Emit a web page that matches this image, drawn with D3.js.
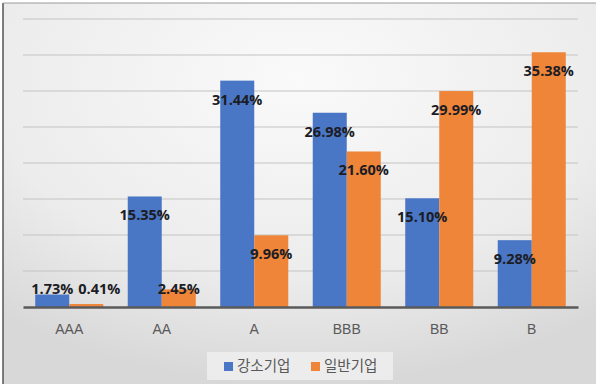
<!DOCTYPE html>
<html>
<head>
<meta charset="utf-8">
<script src="https://cdn.jsdelivr.net/npm/d3@7"></script>
<style>
  body { margin: 0; background: #fff; }
  svg { display: block; }
</style>
</head>
<body>
<div id="chart"></div>
<script>
// data
const grades = ["AAA", "AA", "A", "BBB", "BB", "B"];
const seriesNames = ["강소기업", "일반기업"];
const strongCo = [1.73, 15.35, 31.44, 26.98, 15.10, 9.28];
const generalCo = [0.41, 2.45, 9.96, 21.60, 29.99, 35.38];
const yTicks = [0, 5, 10, 15, 20, 25, 30, 35, 40];

const colors = ["#4a76c6", "#ee8538"];
const W = 600, H = 388;
const margin = {left: 23, right: 22, top: 19, bottom: 81};

var svg = d3.select("#chart")
    .append("svg")
    .attr("width", W)
    .attr("height", H);

// background gradient (photo-like vignette)
let defs = svg.append("defs");
let grad = defs.append("radialGradient")
    .attr("id", "bg")
    .attr("cx", "50%")
    .attr("cy", "20%")
    .attr("r", "80%");
grad.append("stop").attr("offset", "0%").attr("stop-color", "#fafafa");
grad.append("stop").attr("offset", "65%").attr("stop-color", "#ececec");
grad.append("stop").attr("offset", "100%").attr("stop-color", "#d8d8d8");

svg.append("rect")
    .attr("x", 3)
    .attr("y", 3)
    .attr("width", W - 7)
    .attr("height", H - 7)
    .attr("fill", "url(#bg)");
svg.append("line")
    .attr("x1", 3).attr("x2", 3)
    .attr("y1", 3).attr("y2", H - 4)
    .attr("stroke", "#555")
    .attr("stroke-width", 1.5);
svg.append("line")
    .attr("x1", 3).attr("x2", W - 4)
    .attr("y1", 3).attr("y2", 3)
    .attr("stroke", "#9a9a9a")
    .attr("stroke-width", 1);

let x = d3.scaleBand()
    .domain(grades)
    .range([margin.left, W - margin.right]);

let xInner = d3.scaleBand()
    .domain([0, 1])
    .range([0, x.bandwidth()])
    .paddingOuter(0.36)
    .paddingInner(0);

let y = d3.scaleLinear()
    .domain([0, 40])
    .range([H - margin.bottom, margin.top]);

// gridlines
svg.append("g")
    .selectAll("line")
    .data(yTicks.slice(1))
    .join("line")
    .attr("x1", margin.left)
    .attr("x2", W - margin.right)
    .attr("y1", d => y(d))
    .attr("y2", d => y(d))
    .attr("stroke", "#c4c4c4")
    .attr("stroke-width", 1.2);

// bars
let rows = grades.map((g, i) => ({g: g, vals: [strongCo[i], generalCo[i]]}));

let groups = svg.append("g")
    .selectAll("g")
    .data(rows)
    .join("g")
    .attr("transform", d => "translate(" + x(d.g) + ",0)");

groups.selectAll("rect")
    .data(d => d.vals.map((v, k) => ({v: v, k: k})))
    .join("rect")
    .attr("x", d => xInner(d.k))
    .attr("width", xInner.bandwidth())
    .attr("y", d => y(d.v))
    .attr("height", d => y(0) - y(d.v))
    .attr("fill", d => colors[d.k]);

// baseline axis
let xAxis = svg.append("g")
    .attr("transform", "translate(0," + y(0) + ")")
    .call(d3.axisBottom(x).tickSize(0).tickPadding(17));
xAxis.select(".domain")
    .attr("stroke", "#5a5a5a")
    .attr("stroke-width", 2.5);
xAxis.selectAll("text")
    .attr("font-family", "Liberation Sans, Arial, sans-serif")
    .attr("font-size", "14px")
    .attr("fill", "#595959");

// value labels, inside end, pushed above the axis for short bars
let labelY = v => Math.min(y(v) + 20, y(0) - 17);
let labels = svg.append("g")
    .attr("font-family", "Open Sans, sans-serif")
    .attr("font-weight", "bold")
    .attr("font-size", "14.5px")
    .attr("fill", "#1c1c24")
    .attr("text-anchor", "middle")
    .attr("dominant-baseline", "middle");

rows.forEach(r => {
    let nodes = r.vals.map((v, k) => labels.append("text")
        .attr("x", x(r.g) + xInner(k) + xInner.bandwidth() / 2)
        .attr("y", labelY(v))
        .text(v.toFixed(2) + "%"));
    // keep the two labels apart when both sit on the axis
    if (labelY(r.vals[0]) === labelY(r.vals[1])) {
        let a = nodes[0].node().getBBox();
        let b = nodes[1].node().getBBox();
        if (b.x < a.x + a.width + 5) {
            nodes[1].attr("x", a.x + a.width + 5 + b.width / 2);
        }
    }
});

// legend
let legend = svg.append("g");
legend.append("rect")
    .attr("x", 207)
    .attr("y", 352)
    .attr("width", 186)
    .attr("height", 28)
    .attr("fill", "#efefef")
    .attr("opacity", 0.85);

let legendX = [224, 311];
seriesNames.forEach((name, k) => {
    legend.append("rect")
        .attr("x", legendX[k])
        .attr("y", 362)
        .attr("width", 9)
        .attr("height", 9)
        .attr("fill", colors[k]);
    legend.append("text")
        .attr("x", legendX[k] + 13)
        .attr("y", 367)
        .attr("dominant-baseline", "middle")
        .attr("font-family", "Noto Sans CJK KR, sans-serif")
        .attr("font-size", "14.5px")
        .attr("fill", "#595959")
        .text(name);
});
</script>
</body>
</html>
